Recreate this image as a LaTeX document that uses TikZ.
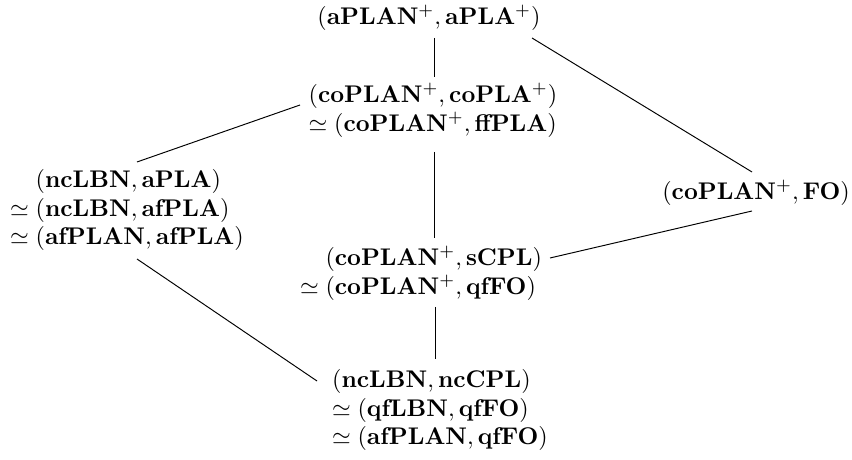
\documentclass[tikz,border=0pt]{standalone}
\usepackage{amsmath}
\newcommand{\pair}[2]{(\mathbf{#1},\mathbf{#2})}
\newcommand{\eqv}{\simeq}
\newcommand{\pad}{\hphantom{\simeq}\;}
\begin{document}
\begin{tikzpicture}[x=0.415pt,y=-0.415pt,
  lat/.style={align=left,inner sep=2pt},
  link/.style={draw,line width=0.4pt}]
\useasboundingbox (0,0) rectangle (852,460);
% lattice elements
\node[lat] (top)  at (429,18)  {$\pair{aPLAN^+}{aPLA^+}$};
\node[lat] (a2)   at (433,110) {$\pair{coPLAN^+}{coPLA^+}$\\$\eqv\pair{coPLAN^+}{ffPLA}$};
\node[lat] (left) at (127,210) {$\pad\pair{ncLBN}{aPLA}$\\$\eqv\pair{ncLBN}{afPLA}$\\$\eqv\pair{afPLAN}{afPLA}$};
\node[lat] (fo)   at (756,193) {$\pair{coPLAN^+}{FO}$};
\node[lat] (scpl) at (421,273) {$\pad\pair{coPLAN^+}{sCPL}$\\$\eqv\pair{coPLAN^+}{qfFO}$};
\node[lat] (bot)  at (440,410) {$\pair{ncLBN}{ncCPL}$\\$\eqv\pair{qfLBN}{qfFO}$\\$\eqv\pair{afPLAN}{qfFO}$};
% order relations
\draw[link] ([shift={(5,20)}]top.center)   -- ([shift={(1,-33)}]a2.center);
\draw[link] ([shift={(103,20)}]top.center) -- ([shift={(-4,-21)}]fo.center);
\draw[link] ([shift={(-133,-5)}]a2.center) -- ([shift={(10,-48)}]left.center);
\draw[link] ([shift={(1,42)}]a2.center)    -- ([shift={(13,-35)}]scpl.center);
\draw[link] ([shift={(129,-15)}]scpl.center) -- ([shift={(-4,18)}]fo.center);
\draw[link] ([shift={(14,34)}]scpl.center) -- ([shift={(-5,-51)}]bot.center);
\draw[link] ([shift={(10,49)}]left.center) -- ([shift={(-123,-29)}]bot.center);
\end{tikzpicture}
\end{document}
